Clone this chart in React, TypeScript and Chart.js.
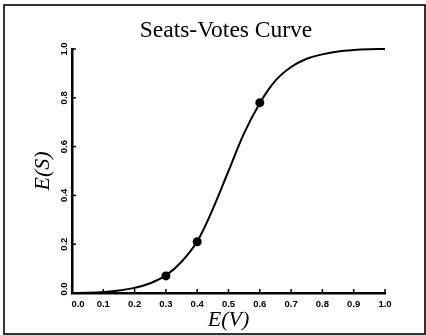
import React, { useEffect, useRef } from "react";
import { Chart, registerables } from "chart.js";

Chart.register(...registerables);

// Expected vote share (x) and expected seat share (y) along the fitted curve
const curveVotes = [0, 0.05, 0.1, 0.15, 0.2, 0.25, 0.3, 0.35, 0.4, 0.45, 0.5, 0.55, 0.6, 0.65, 0.7, 0.75, 0.8, 0.85, 0.9, 0.95, 1.0];
const curveSeats = [0.0, 0.001, 0.004, 0.01, 0.021, 0.04, 0.072, 0.128, 0.212, 0.345, 0.5, 0.655, 0.778, 0.87, 0.926, 0.96, 0.978, 0.99, 0.996, 0.999, 1.0];

// Observed elections marked on the curve
const observedVotes = [0.3, 0.4, 0.6];
const observedSeats = [0.07, 0.21, 0.78];

// Axis tick values and their printed labels
const xTickValues = [0, 0.1, 0.2, 0.3, 0.4, 0.5, 0.6, 0.7, 0.8, 0.9, 1.0];
const xTickLabels = ["0.0", "0.1", "0.2", "0.3", "0.4", "0.5", "0.6", "0.7", "0.8", "0.9", "1.0"];
const yTickValues = [0, 0.2, 0.4, 0.6, 0.8, 1.0];
const yTickLabels = ["0.0", "0.2", "0.4", "0.6", "0.8", "1.0"];

const chartTitle = "Seats-Votes Curve";
const xTitle = "E(V)";
const yTitle = "E(S)";

const decorations = {
  id: "decorations",
  afterDraw(chart: any) {
    const { ctx, chartArea } = chart;
    const xs = chart.scales.x;
    const ys = chart.scales.y;
    ctx.save();
    ctx.strokeStyle = "#000";
    ctx.fillStyle = "#000";

    // outer frame
    ctx.lineWidth = 1.6;
    ctx.strokeRect(4, 5, 421, 329);

    // inward tick marks
    ctx.lineWidth = 1.5;
    xTickValues.forEach((v) => {
      const px = xs.getPixelForValue(v);
      ctx.beginPath();
      ctx.moveTo(px, chartArea.bottom);
      ctx.lineTo(px, chartArea.bottom - 4);
      ctx.stroke();
    });
    yTickValues.forEach((v) => {
      const py = ys.getPixelForValue(v);
      ctx.beginPath();
      ctx.moveTo(chartArea.left, py);
      ctx.lineTo(chartArea.left + 4, py);
      ctx.stroke();
    });

    // tick labels
    ctx.font = "bold 9.5px 'Liberation Sans', Arial, sans-serif";
    ctx.textAlign = "center";
    ctx.textBaseline = "middle";
    xTickValues.forEach((v, i) => {
      const px = xs.getPixelForValue(v) + (i === 0 ? 6 : 0);
      ctx.fillText(xTickLabels[i], px, chartArea.bottom + 11);
    });
    yTickValues.forEach((v, i) => {
      const py = ys.getPixelForValue(v) - (i === 0 ? 4 : 0);
      ctx.save();
      ctx.translate(chartArea.left - 8, py);
      ctx.rotate(-Math.PI / 2);
      ctx.fillText(yTickLabels[i], 0, 0);
      ctx.restore();
    });

    // chart title
    ctx.font = "23.5px 'Liberation Serif', 'Times New Roman', serif";
    ctx.fillText(chartTitle, 226, 31);

    // axis titles
    ctx.font = "italic 22px 'Liberation Serif', 'Times New Roman', serif";
    ctx.fillText(xTitle, (chartArea.left + chartArea.right) / 2, 320);
    ctx.save();
    ctx.translate(43, (chartArea.top + chartArea.bottom) / 2);
    ctx.rotate(-Math.PI / 2);
    ctx.fillText(yTitle, 0, 0);
    ctx.restore();

    ctx.restore();
  },
};

export default function App() {
  const canvasRef = useRef<HTMLCanvasElement | null>(null);

  useEffect(() => {
    document.body.style.margin = "0";
    const canvas = canvasRef.current;
    if (!canvas) return;
    const chart = new Chart(canvas, {
      type: "scatter",
      data: {
        datasets: [
          {
            data: curveVotes.map((v, i) => ({ x: v, y: curveSeats[i] })),
            showLine: true,
            borderColor: "#000",
            borderWidth: 2,
            pointRadius: 0,
            tension: 0.4,
            clip: false,
          },
          {
            data: observedVotes.map((v, i) => ({ x: v, y: observedSeats[i] })),
            showLine: false,
            pointRadius: 4.5,
            pointBackgroundColor: "#000",
            pointBorderColor: "#000",
            pointBorderWidth: 0,
            clip: false,
          },
        ],
      },
      options: {
        animation: false,
        responsive: true,
        maintainAspectRatio: false,
        layout: { padding: { left: 72, top: 49, right: 41, bottom: 42 } },
        plugins: {
          legend: { display: false },
          tooltip: { enabled: false },
          title: { display: false },
        },
        scales: {
          x: {
            type: "linear",
            min: 0,
            max: 1,
            ticks: { display: false, stepSize: 0.1 },
            grid: { display: false, drawTicks: false },
            border: { display: true, color: "#000", width: 2.5 },
          },
          y: {
            type: "linear",
            min: 0,
            max: 1,
            ticks: { display: false, stepSize: 0.2 },
            grid: { display: false, drawTicks: false },
            border: { display: true, color: "#000", width: 2.5 },
          },
        },
      },
      plugins: [decorations],
    });
    return () => chart.destroy();
  }, []);

  return (
    <div style={{ position: "relative", width: 426, height: 335 }}>
      <canvas ref={canvasRef} />
    </div>
  );
}
